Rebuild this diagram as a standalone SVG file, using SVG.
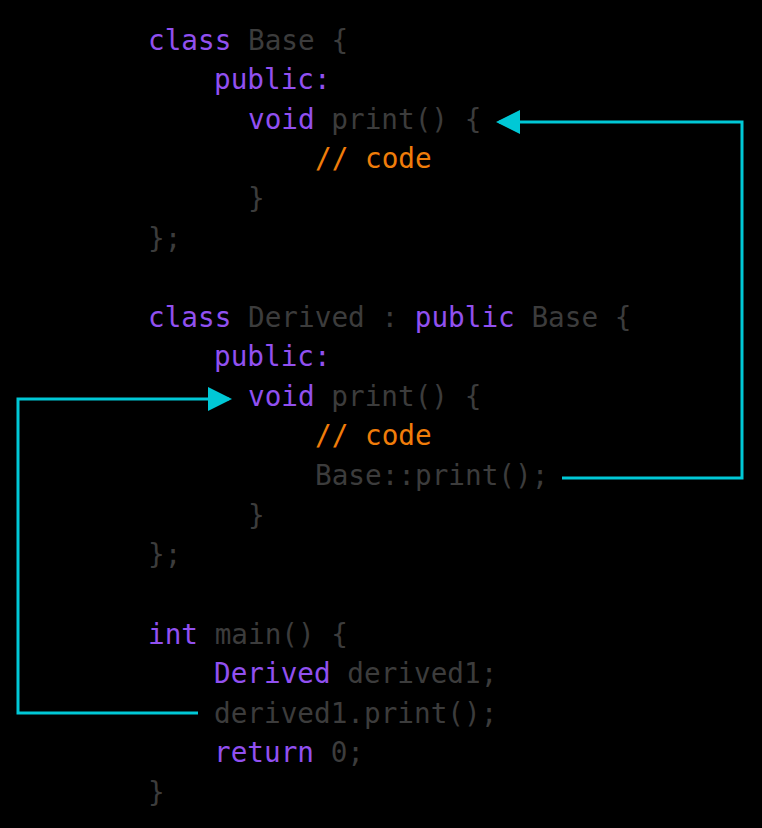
<svg xmlns="http://www.w3.org/2000/svg" width="762" height="828" viewBox="0 0 762 828">
<style>
text{font-family:"DejaVu Sans Mono","Liberation Mono",monospace;font-size:27.7px;fill:#3c3c3c;white-space:pre}
.k{fill:#9150f0}.c{fill:#f07d0a}
.ln{fill:none;stroke:#00c8d6;stroke-width:3}
</style>
<defs><marker id="ah" markerWidth="8" markerHeight="8" refX="7" refY="4" orient="auto" markerUnits="strokeWidth"><path d="M0,0L8,4L0,8z" fill="#00c8d6"/></marker></defs>
<rect width="762" height="828" fill="#000"/>
<g id="code" transform="translate(0,1)">
<text x="148" y="49"><tspan class="k">class</tspan> Base {</text>
<text x="214" y="88" class="k">public:</text>
<text x="248" y="128"><tspan class="k">void</tspan> print() {</text>
<text x="315" y="167" class="c">// code</text>
<text x="248" y="207">}</text>
<text x="148" y="247">};</text>
<text x="148" y="326"><tspan class="k">class</tspan> Derived : <tspan class="k">public</tspan> Base {</text>
<text x="214" y="365" class="k">public:</text>
<text x="248" y="405"><tspan class="k">void</tspan> print() {</text>
<text x="315" y="444" class="c">// code</text>
<text x="315" y="484">Base::print();</text>
<text x="248" y="524">}</text>
<text x="148" y="563">};</text>
<text x="148" y="643"><tspan class="k">int</tspan> main() {</text>
<text x="214" y="682"><tspan class="k">Derived</tspan> derived1;</text>
<text x="214" y="722">derived1.print();</text>
<text x="214" y="761"><tspan class="k">return</tspan> 0;</text>
<text x="148" y="801">}</text>
</g>
<g id="connectors">
<path class="ln" d="M562,478H742V122H499" marker-end="url(#ah)"/>
<path class="ln" d="M198,713H18V399H229" marker-end="url(#ah)"/>
</g>
</svg>
